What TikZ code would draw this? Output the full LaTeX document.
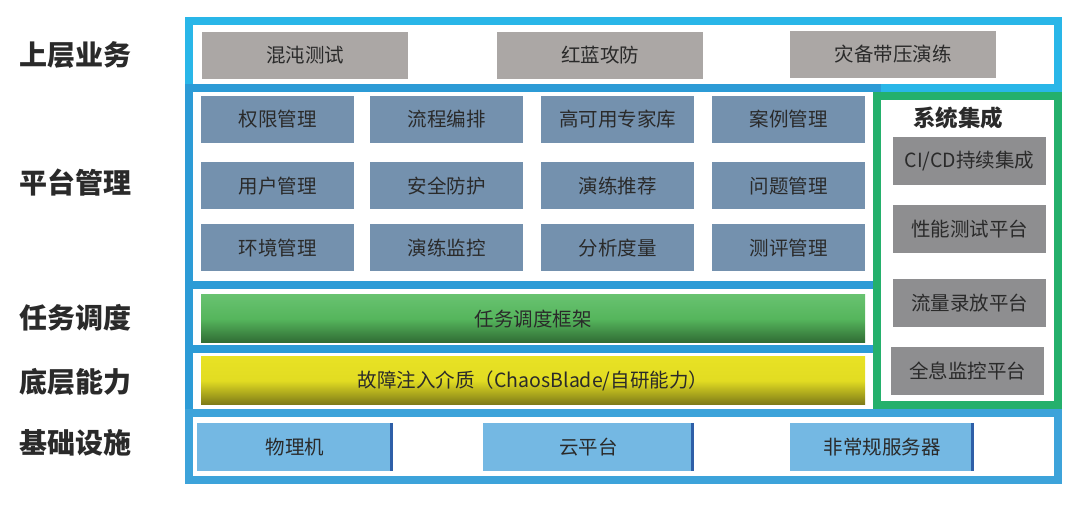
\documentclass[tikz,border=0pt]{standalone}
\usepackage{fontspec}
\setmainfont{Noto Sans CJK SC}
\usepackage{tikz}
\usepackage{xcolor}
\usetikzlibrary{positioning}
\definecolor{topblue}{HTML}{29B6E8}
\definecolor{midblue}{HTML}{2C9BD6}
\definecolor{lowblue}{HTML}{3DA3DA}
\definecolor{sysgreen}{HTML}{24B06C}
\definecolor{bizgray}{HTML}{ABA7A5}
\definecolor{sysgray}{HTML}{8E8E90}
\definecolor{mgmtslate}{HTML}{7491AE}
\definecolor{infrablue}{HTML}{74B8E3}
\definecolor{edgeblue}{HTML}{2E5FA8}
\definecolor{txt}{HTML}{2A2A2A}
\definecolor{grntop}{HTML}{68C270}
\definecolor{grnmid}{HTML}{55B55C}
\definecolor{grnbot}{HTML}{2F6A33}
\definecolor{yeltop}{HTML}{E8E224}
\definecolor{yelmid}{HTML}{E2DC22}
\definecolor{yelbot}{HTML}{7D7A18}
\tikzset{
  layerlabel/.style={anchor=west,inner sep=0pt,text=txt,
                     font=\fontsize{28}{30}\selectfont\bfseries},
  frame/.style={line width=8pt},
  cell/.style={inner sep=0pt,text=txt,font=\fontsize{19.5}{22}\selectfont},
  bizbox/.style={cell,fill=bizgray,minimum width=206pt,minimum height=47pt},
  mgmtbox/.style={cell,fill=mgmtslate,minimum width=153pt,minimum height=47pt},
  sysbox/.style={cell,fill=sysgray,minimum width=153pt,minimum height=48pt},
  infrabox/.style={cell,fill=infrablue,minimum height=48pt},
  bar/.style={cell,minimum width=664pt,minimum height=48pt},
  greenbar/.style={bar,top color=grntop,bottom color=grnbot,middle color=grnmid},
  yellowbar/.style={bar,top color=yeltop,bottom color=yelbot,middle color=yelmid}
}

\begin{document}
\begin{tikzpicture}[x=1pt,y=-1pt]
  \useasboundingbox (0,0) rectangle (1080,505);

  % layer frames
  \draw[frame,topblue] (189,21) rectangle (1058,88);
  \draw[frame,midblue] (189,88) rectangle (877,285);
  \draw[frame,midblue] (189,285) rectangle (877,349);
  \draw[frame,midblue] (189,349) rectangle (877,413);
  \draw[frame,lowblue] (189,413) rectangle (1058,480);
  \draw[frame,sysgreen] (877,96) rectangle (1058,405);

  % layer names
  \node[layerlabel] (l1) at (19,55) {上层业务};
  \node[layerlabel] (l2) at (19,183) {平台管理};
  \node[layerlabel] (l3) at (19,318) {任务调度};
  \node[layerlabel] (l4) at (19,382) {底层能力};
  \node[layerlabel] (l5) at (19,443) {基础设施};

  % upper business
  \node[bizbox] (chaos) at (305,55.5) {混沌测试};
  \node[bizbox] (redblue) at (600,55.5) {红蓝攻防};
  \node[bizbox] (drill) at (893,54.5) {灾备带压演练};

  % platform management
  \node[mgmtbox] (auth) at (277.5,119.5) {权限管理};
  \node[mgmtbox] (flow) at (446.5,119.5) {流程编排};
  \node[mgmtbox] (expert) at (617.5,119.5) {高可用专家库};
  \node[mgmtbox] (cases) at (788.5,119.5) {案例管理};
  \node[mgmtbox] (users) at (277.5,186) {用户管理};
  \node[mgmtbox] (secure) at (446.5,186) {安全防护};
  \node[mgmtbox] (recomm) at (617.5,186) {演练推荐};
  \node[mgmtbox] (issues) at (788.5,186) {问题管理};
  \node[mgmtbox] (envs) at (277.5,248) {环境管理};
  \node[mgmtbox] (monitor) at (446.5,248) {演练监控};
  \node[mgmtbox] (metrics) at (617.5,248) {分析度量};
  \node[mgmtbox] (review) at (788.5,248) {测评管理};

  % scheduling and fault injection
  \node[greenbar] (sched) at (533,319) {任务调度框架};
  \node[yellowbar] (inject) at (533,380.5) {故障注入介质（ChaosBlade/自研能力）};

  % system integration
  \node[cell,font=\fontsize{22.5}{24}\selectfont\bfseries] (sysint) at (958,118) {系统集成};
  \node[sysbox] (cicd) at (969.5,161) {CI/CD持续集成};
  \node[sysbox] (perf) at (969.5,229) {性能测试平台};
  \node[sysbox] (replay) at (969.5,303) {流量录放平台};
  \node[sysbox] (holo) at (967.5,371) {全息监控平台};

  % infrastructure
  \node[infrabox,minimum width=196pt] (phys) at (295,447) {物理机};
  \node[infrabox,minimum width=211pt] (cloud) at (588.5,447) {云平台};
  \node[infrabox,minimum width=184pt] (special) at (882,447) {非常规服务器};
  \draw[line width=3pt,edgeblue] ([xshift=-1.5pt]phys.north east) -- ([xshift=-1.5pt]phys.south east);
  \draw[line width=3pt,edgeblue] ([xshift=-1.5pt]cloud.north east) -- ([xshift=-1.5pt]cloud.south east);
  \draw[line width=3pt,edgeblue] ([xshift=-1.5pt]special.north east) -- ([xshift=-1.5pt]special.south east);
\end{tikzpicture}
\end{document}
